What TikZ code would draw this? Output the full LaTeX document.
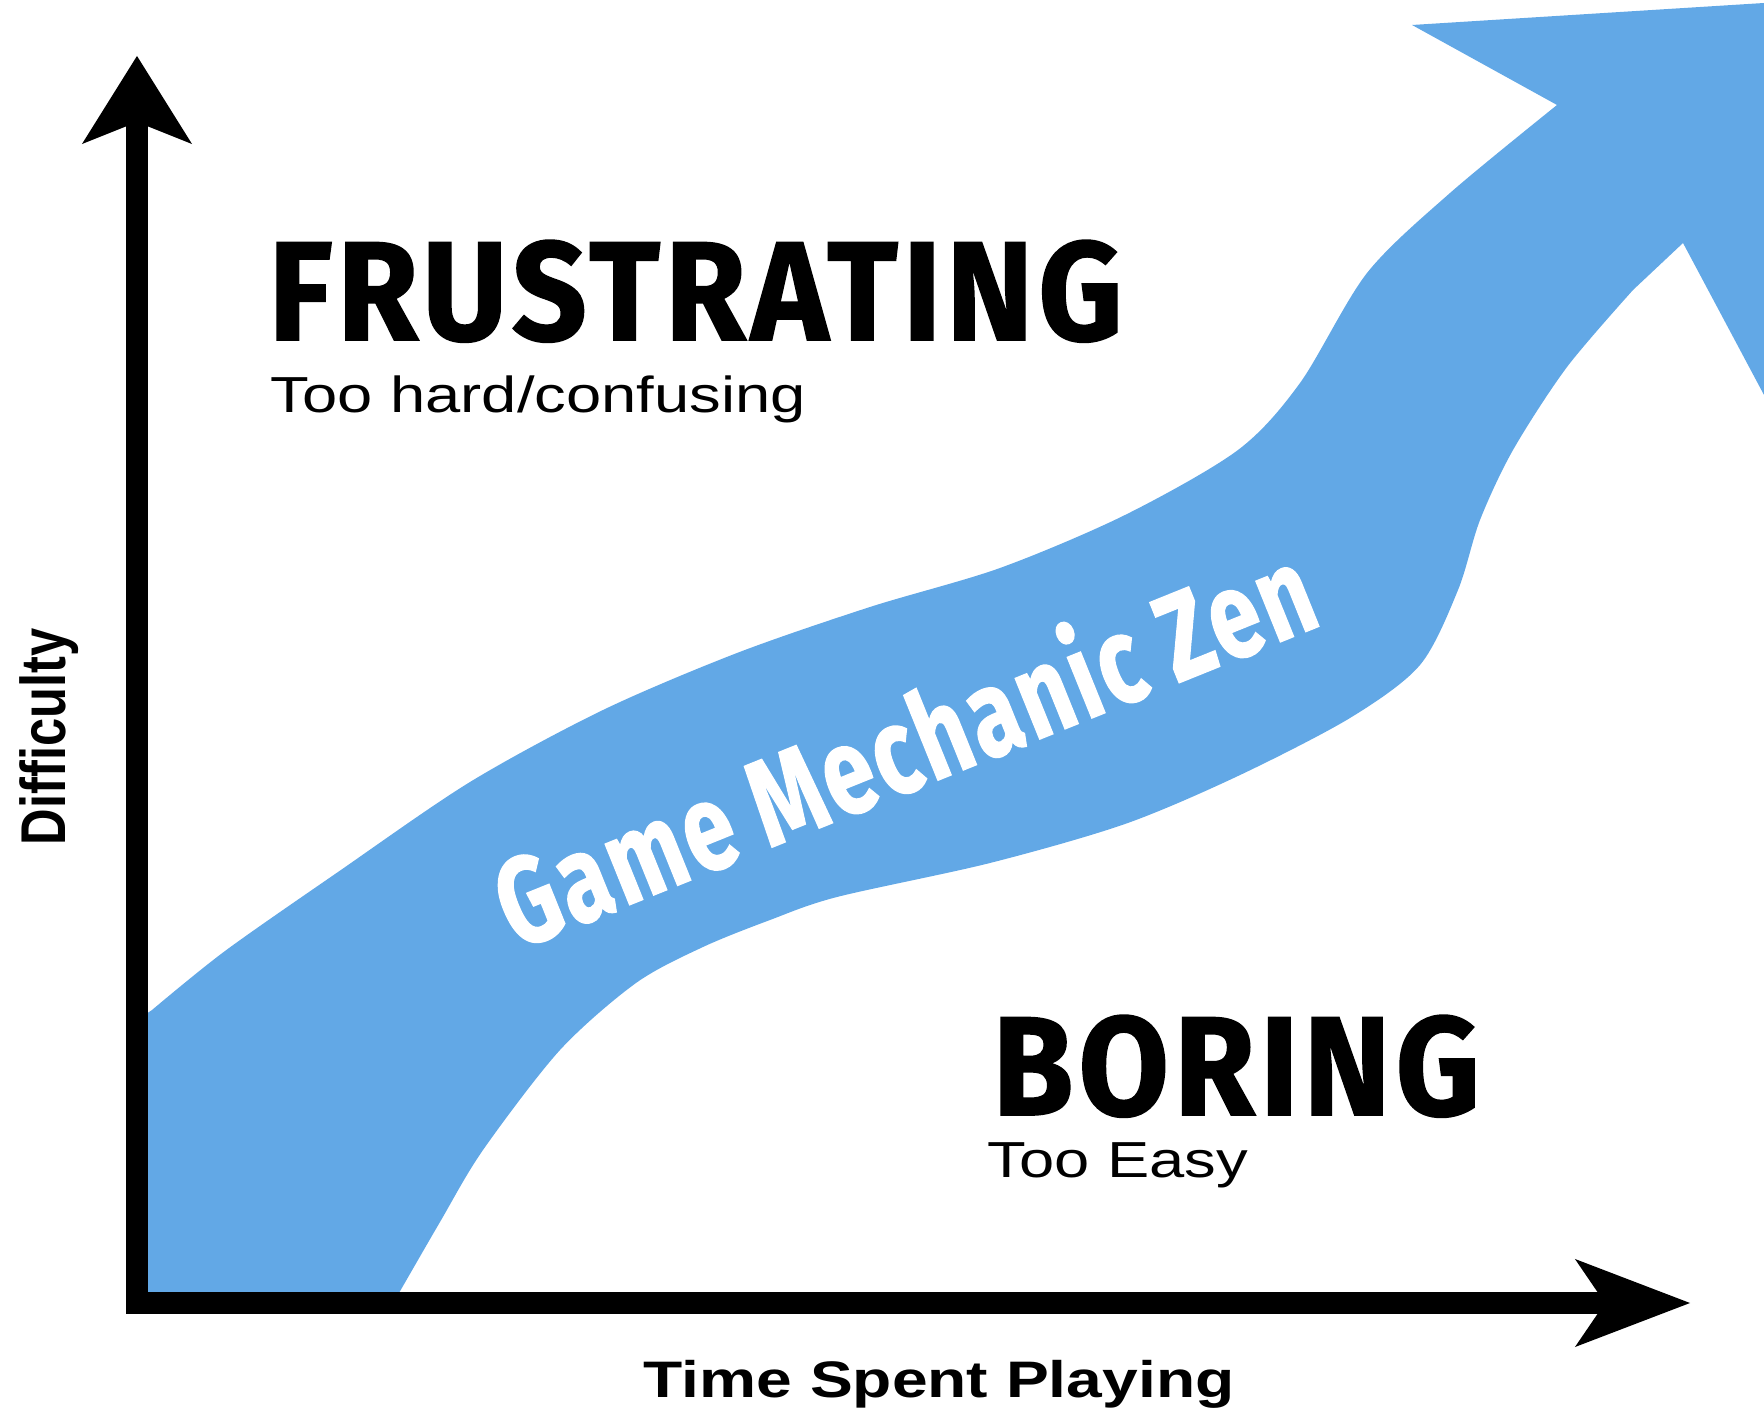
\documentclass[tikz,border=0pt]{standalone}
\usepackage{fontspec}
\setmainfont{Liberation Sans}
\newfontfamily\heavyfont{Fira Sans}[BoldFeatures={FakeBold=1.2, LetterSpace=4}]
\usetikzlibrary{arrows.meta}
\definecolor{zenblue}{RGB}{98,168,230}

\begin{document}
\begin{tikzpicture}[x=0.01cm,y=-0.01cm]
   \tikzset{axis/.style = {line width=6pt, black}, }
   \tikzset{heavy/.style = {font=\heavyfont\bfseries\fontsize{40}{40}\selectfont, inner sep=0pt, xscale=0.93}, }
   \tikzset{sub/.style = {font=\fontsize{14.4}{17}\selectfont, inner sep=0pt, xscale=1.25}, }
   \tikzset{band/.style = {fill=zenblue} }
   \useasboundingbox (0,0) rectangle (1764,1410);

   % the zen band
   \fill[band] (137,1020) -- plot[smooth] coordinates {(152,1010) (225,951) (338,872) (470,782) (603,710) (737,653) (870,607) (1000,568) (1125,515) (1238,450) (1300,383) (1367,273) (1450,193) (1557,105)}
      -- (1412,25) -- (1764,3) -- (1764,395) -- (1683,243)
      -- plot[smooth] coordinates {(1633,290) (1567,367) (1513,450) (1480,520) (1458,590) (1420,665) (1350,718) (1238,776) (1125,824) (990,863) (837,897) (770,920) (703,947) (636,983) (560,1050) (483,1150) (440,1222) (399,1293)}
      -- (137,1293) -- cycle;

   \coordinate (origin) at (126,1303);
   \coordinate (corner) at (137,1313);
   \coordinate (ytip) at (137,56);
   \coordinate (xtip) at (1690,1303);

   % axes
   \draw[axis, -{Stealth[length=0.88cm, width=1.1cm, inset=0.22cm, line width=0pt]}] (corner) -- (ytip);
   \draw[axis, -{Stealth[length=1.15cm, width=0.88cm, inset=0.3cm, line width=0pt]}] (origin) -- (xtip);

   \node[heavy, anchor=base west] (frus) at (268,340) {FRUSTRATING};
   \node[sub, anchor=base west] (frusSub) at (270,413) {Too hard/confusing};
   \node[heavy, anchor=base west] (bor) at (992,1115) {BORING};
   \node[sub, anchor=base west] (borSub) at (987,1177) {Too Easy};

   \node[font=\heavyfont\bfseries\fontsize{35}{35}\selectfont, text=white, inner sep=0pt, rotate=22, xscale=0.74] (zen) at (902,742) {Game Mechanic Zen};

   \node[sub, font=\bfseries\fontsize{14.6}{17}\selectfont, anchor=base] (xlab) at (939,1397) {Time Spent Playing};
   \node[sub, font=\bfseries\fontsize{14.4}{17}\selectfont, rotate=90, anchor=base] (ylab) at (65,737) {Difficulty};
\end{tikzpicture}
\end{document}
